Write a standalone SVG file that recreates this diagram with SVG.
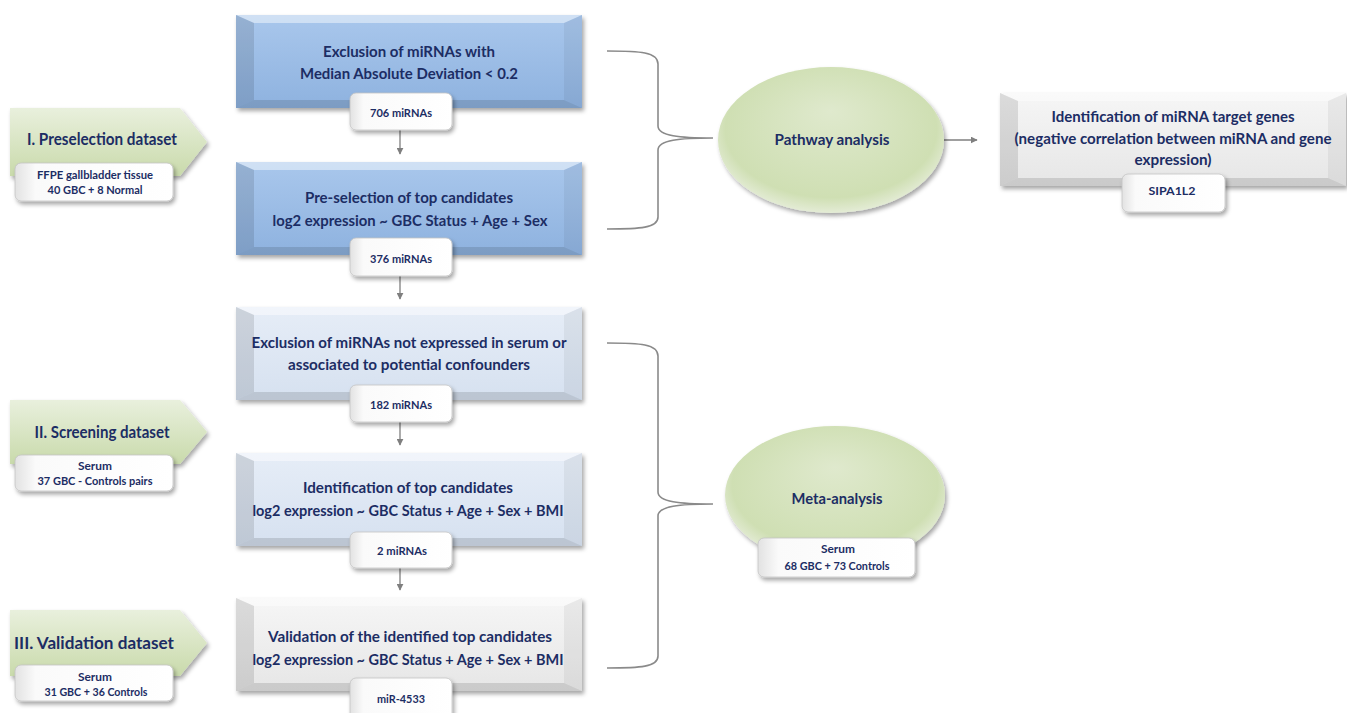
<svg xmlns="http://www.w3.org/2000/svg" xmlns:xlink="http://www.w3.org/1999/xlink" width="1347" height="713" viewBox="0 0 1347 713">
<style>
text{font-family:Lato,"Liberation Sans",sans-serif;font-weight:bold;fill:#1c2d64;text-anchor:middle}
.h{font-size:16px}
.a{font-size:17px}
.s{font-size:11.5px}
.n{font-size:12px}
.blue{fill:url(#gBlue)}
.lav{fill:url(#gLav)}
.gry{fill:url(#gGry)}
.lbl{fill:url(#gWhite);stroke:#c4c4c4;stroke-width:0.8}
.grn{fill:url(#gGreen)}
.ell{fill:url(#gEll)}
.conn{stroke:#7f7f7f;stroke-width:1.3;fill:none}
.br{stroke:#8a8a8a;stroke-width:1.6;fill:none}
</style>
<defs>
<filter id="sh" x="-10%" y="-15%" width="125%" height="150%">
<feDropShadow dx="2" dy="3" stdDeviation="2" flood-color="#000" flood-opacity="0.35"/>
</filter>
<linearGradient id="gBlue" x1="0" y1="0" x2="0" y2="1"><stop offset="0" stop-color="#a9c7ec"/><stop offset="1" stop-color="#8eb2df"/></linearGradient>
<linearGradient id="gLav" x1="0" y1="0" x2="0" y2="1"><stop offset="0" stop-color="#e6edf7"/><stop offset="1" stop-color="#d6e1f0"/></linearGradient>
<linearGradient id="gGry" x1="0" y1="0" x2="0" y2="1"><stop offset="0" stop-color="#f6f6f6"/><stop offset="1" stop-color="#e6e6e6"/></linearGradient>
<linearGradient id="gWhite" x1="0" y1="0" x2="1" y2="0"><stop offset="0" stop-color="#e2e2e2"/><stop offset="0.13" stop-color="#fafafa"/><stop offset="1" stop-color="#ffffff"/></linearGradient>
<linearGradient id="gGreen" x1="0" y1="0" x2="0" y2="1"><stop offset="0" stop-color="#e9f0dd"/><stop offset="1" stop-color="#c9daab"/></linearGradient>
<radialGradient id="gEll" cx="0.5" cy="0.45" r="0.55" fx="0.5" fy="0.3"><stop offset="0" stop-color="#dfe9cd"/><stop offset="0.85" stop-color="#cfdfb3"/><stop offset="1" stop-color="#e4ecd6"/></radialGradient>
<g id="bevel">
<polygon points="0,0 346,0 328,8 18,8" fill="#fff" fill-opacity="0.45"/>
<polygon points="0,93 346,93 328,85 18,85" fill="#000" fill-opacity="0.12"/>
<polygon points="0,0 18,8 18,85 0,93" fill="#000" fill-opacity="0.11"/>
<polygon points="346,0 328,8 328,85 346,93" fill="#000" fill-opacity="0.05"/>
</g>
<marker id="arr" viewBox="0 0 10 10" refX="9" refY="5" markerWidth="7" markerHeight="7" orient="auto" markerUnits="userSpaceOnUse">
<path d="M0,0 L10,5 L0,10 Z" fill="#7f7f7f"/>
</marker>
</defs>
<rect width="1347" height="713" fill="#fff"/>

<!-- connectors -->
<g id="connectors">
<line class="conn" x1="400" y1="130" x2="400" y2="154" marker-end="url(#arr)"/>
<line class="conn" x1="400" y1="276" x2="400" y2="299" marker-end="url(#arr)"/>
<line class="conn" x1="400" y1="422" x2="400" y2="445" marker-end="url(#arr)"/>
<line class="conn" x1="400" y1="568" x2="400" y2="590" marker-end="url(#arr)"/>
<line class="conn" x1="944" y1="140" x2="977" y2="140" marker-end="url(#arr)"/>
<path class="br" d="M607,51 C640,51 658,52 658,64 L658,126 C658,136 680,138 713,138 C680,138 658,140 658,150 L658,217 C658,228 640,229 607,229"/>
<path class="br" d="M607,343 C640,343 658,344 658,356 L658,492 C658,502 680,504 713,504 C680,504 658,506 658,516 L658,656 C658,667 640,668 607,668"/>
</g>

<!-- left dataset arrows -->
<g id="ds1">
<polygon class="grn" filter="url(#sh)" points="10,108 180,108 207,142 180,176 10,176"/>
<text class="a" x="102" y="145" textLength="150" lengthAdjust="spacingAndGlyphs">I. Preselection dataset</text>
<rect class="lbl" filter="url(#sh)" x="15" y="163" width="158" height="38" rx="6"/>
<text class="s" x="95" y="179" textLength="116" lengthAdjust="spacingAndGlyphs">FFPE gallbladder tissue</text>
<text class="s" x="95" y="194" textLength="95" lengthAdjust="spacingAndGlyphs">40 GBC + 8 Normal</text>
</g>
<g id="ds2">
<polygon class="grn" filter="url(#sh)" points="10,400 180,400 207,432 180,464 10,464"/>
<text class="a" x="102" y="438" textLength="135" lengthAdjust="spacingAndGlyphs">II. Screening dataset</text>
<rect class="lbl" filter="url(#sh)" x="15" y="455" width="158" height="36" rx="6"/>
<text class="s" x="95" y="470" textLength="34" lengthAdjust="spacingAndGlyphs">Serum</text>
<text class="s" x="95" y="485" textLength="115" lengthAdjust="spacingAndGlyphs">37 GBC - Controls pairs</text>
</g>
<g id="ds3">
<polygon class="grn" filter="url(#sh)" points="10,610 180,610 207,643 180,676 10,676"/>
<text class="a" x="94" y="649" textLength="160" lengthAdjust="spacingAndGlyphs">III. Validation dataset</text>
<rect class="lbl" filter="url(#sh)" x="15" y="665" width="158" height="36" rx="6"/>
<text class="s" x="95" y="681" textLength="34" lengthAdjust="spacingAndGlyphs">Serum</text>
<text class="s" x="96" y="696" textLength="103" lengthAdjust="spacingAndGlyphs">31 GBC + 36 Controls</text>
</g>

<!-- main steps -->
<g id="step1">
<g filter="url(#sh)"><rect class="blue" x="236" y="15" width="346" height="93"/><use href="#bevel" x="236" y="15"/></g>
<text class="h" x="409" y="57" textLength="172" lengthAdjust="spacingAndGlyphs">Exclusion of miRNAs with</text>
<text class="h" x="409" y="79" textLength="218" lengthAdjust="spacingAndGlyphs">Median Absolute Deviation &lt; 0.2</text>
<rect class="lbl" filter="url(#sh)" x="350" y="93" width="102" height="37" rx="6"/>
<text class="n" x="401" y="117" textLength="62" lengthAdjust="spacingAndGlyphs">706 miRNAs</text>
</g>
<g id="step2">
<g filter="url(#sh)"><rect class="blue" x="236" y="162" width="346" height="93"/><use href="#bevel" x="236" y="162"/></g>
<text class="h" x="409" y="203" textLength="208" lengthAdjust="spacingAndGlyphs">Pre-selection of top candidates</text>
<text class="h" x="410" y="226" textLength="275" lengthAdjust="spacingAndGlyphs">log2 expression ~ GBC Status + Age + Sex</text>
<rect class="lbl" filter="url(#sh)" x="350" y="238" width="102" height="38" rx="6"/>
<text class="n" x="401" y="263" textLength="62" lengthAdjust="spacingAndGlyphs">376 miRNAs</text>
</g>
<g id="step3">
<g filter="url(#sh)"><rect class="lav" x="236" y="307" width="346" height="93"/><use href="#bevel" x="236" y="307"/></g>
<text class="h" x="409" y="348" textLength="315" lengthAdjust="spacingAndGlyphs">Exclusion of miRNAs not expressed in serum or</text>
<text class="h" x="409" y="370" textLength="242" lengthAdjust="spacingAndGlyphs">associated to potential confounders</text>
<rect class="lbl" filter="url(#sh)" x="350" y="385" width="102" height="37" rx="6"/>
<text class="n" x="401" y="409" textLength="62" lengthAdjust="spacingAndGlyphs">182 miRNAs</text>
</g>
<g id="step4">
<g filter="url(#sh)"><rect class="lav" x="236" y="453" width="346" height="93"/><use href="#bevel" x="236" y="453"/></g>
<text class="h" x="408" y="493" textLength="210" lengthAdjust="spacingAndGlyphs">Identification of top candidates</text>
<text class="h" x="408" y="516" textLength="311" lengthAdjust="spacingAndGlyphs">log2 expression ~ GBC Status + Age + Sex + BMI</text>
<rect class="lbl" filter="url(#sh)" x="350" y="532" width="102" height="36" rx="6"/>
<text class="n" x="402" y="555" textLength="50" lengthAdjust="spacingAndGlyphs">2 miRNAs</text>
</g>
<g id="step5">
<g filter="url(#sh)"><rect class="gry" x="236" y="598" width="346" height="93"/><use href="#bevel" x="236" y="598"/></g>
<text class="h" x="410" y="642" textLength="284" lengthAdjust="spacingAndGlyphs">Validation of the identified top candidates</text>
<text class="h" x="408" y="665" textLength="311" lengthAdjust="spacingAndGlyphs">log2 expression ~ GBC Status + Age + Sex + BMI</text>
<rect class="lbl" filter="url(#sh)" x="350" y="678" width="102" height="44" rx="6"/>
<text class="n" x="401" y="703" textLength="48" lengthAdjust="spacingAndGlyphs">miR-4533</text>
</g>

<!-- analyses -->
<g id="pathway">
<ellipse class="ell" filter="url(#sh)" cx="831" cy="140" rx="113" ry="73"/>
<text class="h" x="832" y="145" textLength="115" lengthAdjust="spacingAndGlyphs">Pathway analysis</text>
</g>
<g id="meta">
<ellipse class="ell" filter="url(#sh)" cx="835" cy="495" rx="110" ry="69"/>
<text class="h" x="837" y="504" textLength="91" lengthAdjust="spacingAndGlyphs">Meta-analysis</text>
<rect class="lbl" filter="url(#sh)" x="758" y="538" width="157" height="39" rx="6"/>
<text class="s" x="838" y="553" textLength="34" lengthAdjust="spacingAndGlyphs">Serum</text>
<text class="s" x="837" y="570" textLength="105" lengthAdjust="spacingAndGlyphs">68 GBC + 73 Controls</text>
</g>
<g id="targets">
<g filter="url(#sh)"><rect class="gry" x="1000" y="93" width="346" height="93"/><use href="#bevel" x="1000" y="93"/></g>
<text class="h" x="1173" y="122" textLength="243" lengthAdjust="spacingAndGlyphs">Identification of miRNA target genes</text>
<text class="h" x="1173" y="144" textLength="317" lengthAdjust="spacingAndGlyphs">(negative correlation between miRNA and gene</text>
<text class="h" x="1173" y="165" textLength="77" lengthAdjust="spacingAndGlyphs">expression)</text>
<rect class="lbl" filter="url(#sh)" x="1122" y="174" width="103" height="38" rx="6"/>
<text class="n" x="1172" y="195" textLength="47" lengthAdjust="spacingAndGlyphs">SIPA1L2</text>
</g>
</svg>
